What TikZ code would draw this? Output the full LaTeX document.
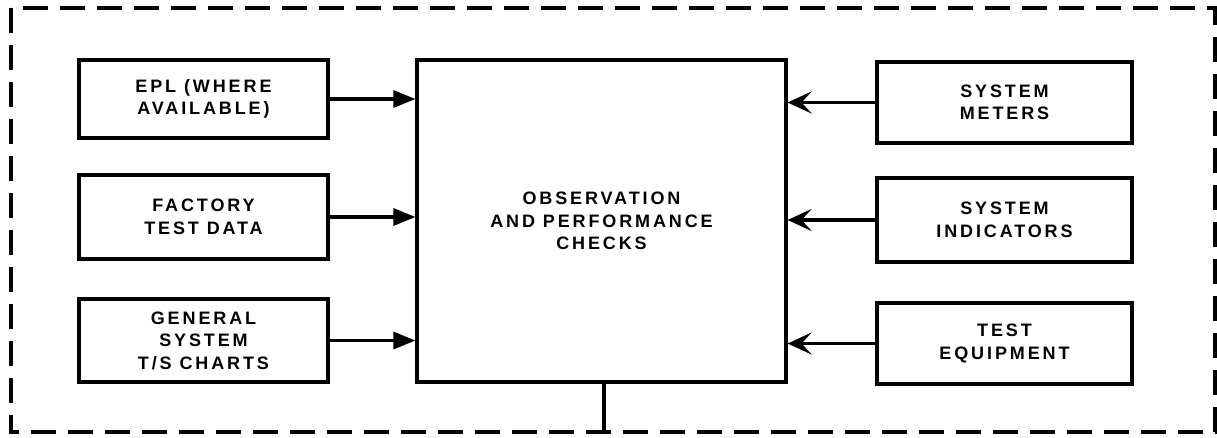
\documentclass[tikz,border=0pt]{standalone}
\usepackage{fontspec}
\setmainfont{Liberation Sans}[LetterSpace=16]
\usetikzlibrary{arrows.meta}
\begin{document}
\begin{tikzpicture}[x=1pt,y=-1pt,
  blk/.style={draw,line width=3.2pt,align=center,inner sep=0pt,
    font=\bfseries\fontsize{18}{22.5}\selectfont},
  inarrow/.style={line width=3.2pt,-{Triangle[length=22pt,width=17pt]}},
  barbarrow/.style={line width=3.2pt,-{Stealth[length=24pt,width=22pt,inset=10pt]}},
  frame/.style={line width=3.2pt,dash pattern=on 25pt off 12pt}]
\useasboundingbox (0,0) rectangle (1217,437);

% outer dashed enclosure
\draw[frame] (11,8) rectangle (1215,432);

% central checking block
\node[blk,minimum width=369pt,minimum height=322pt] (chk) at (601.5,221)
  {OBSERVATION\\AND PERFORMANCE\\CHECKS};

% documentation sources (left)
\node[blk,minimum width=249pt,minimum height=78pt] (epl) at (203.5,99)
  {EPL (WHERE\\AVAILABLE)};
\node[blk,minimum width=249pt,minimum height=84pt] (fac) at (203.5,217)
  {FACTORY\\TEST DATA};
\node[blk,minimum width=249pt,minimum height=83pt] (gen) at (203.5,340.5)
  {GENERAL\\SYSTEM\\T/S CHARTS};

% equipment sources (right)
\node[blk,minimum width=255pt,minimum height=81pt] (met) at (1004.5,102.5)
  {SYSTEM\\METERS};
\node[blk,minimum width=255pt,minimum height=84pt] (ind) at (1004.5,220)
  {SYSTEM\\INDICATORS};
\node[blk,minimum width=255pt,minimum height=81pt] (teq) at (1004.5,343.5)
  {TEST\\EQUIPMENT};

% inputs to the checking block
\draw[inarrow] (epl.east) -- (epl.east -| chk.west);
\draw[inarrow] (fac.east) -- (fac.east -| chk.west);
\draw[inarrow] (gen.east) -- (gen.east -| chk.west);
\draw[barbarrow] (met.west) -- (met.west -| chk.east);
\draw[barbarrow] (ind.west) -- (ind.west -| chk.east);
\draw[barbarrow] (teq.west) -- (teq.west -| chk.east);

% output stem to the enclosure
\coordinate (stem) at (604,432);
\draw[line width=3.2pt] (stem |- chk.south) -- (stem);
\end{tikzpicture}
\end{document}
